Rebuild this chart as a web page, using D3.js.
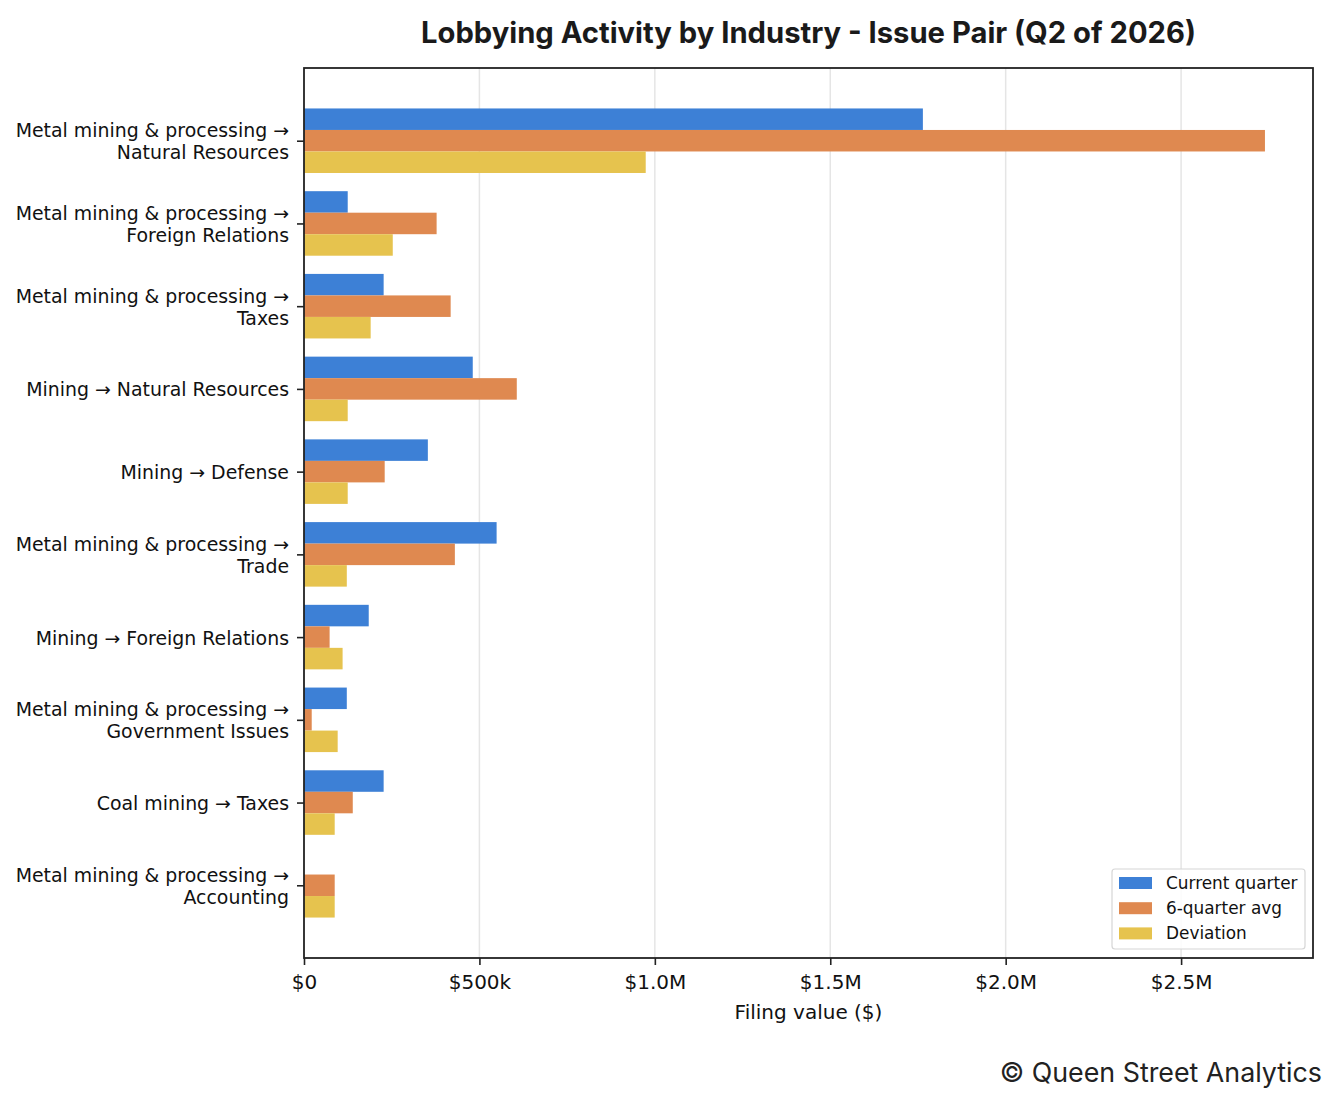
<!DOCTYPE html>
<html>
<head>
<meta charset="utf-8">
<script src="https://cdn.jsdelivr.net/npm/d3@7"></script>
<style>
  html, body { margin: 0; padding: 0; background: #fff; }
  svg { display: block; }
</style>
</head>
<body>
<div id="chart"></div>
<script>
const categories = [
  "Metal mining & processing →\nNatural Resources",
  "Metal mining & processing →\nForeign Relations",
  "Metal mining & processing →\nTaxes",
  "Mining → Natural Resources",
  "Mining → Defense",
  "Metal mining & processing →\nTrade",
  "Mining → Foreign Relations",
  "Metal mining & processing →\nGovernment Issues",
  "Coal mining → Taxes",
  "Metal mining & processing →\nAccounting"
];
const seriesNames = ["Current quarter", "6-quarter avg", "Deviation"];
const currentQuarter = [1764000, 124600, 227000, 481000, 353000, 549000, 184500, 122000, 227000, 0];
const sixQuarterAvg  = [2739000, 378000, 418000, 606500, 230000, 430000, 73000, 22000, 139000, 87500];
const deviation      = [974000, 253000, 190000, 124600, 124600, 122000, 110000, 96000, 87500, 87500];
const xTickValues = [0, 500000, 1000000, 1500000, 2000000, 2500000];
const xTickLabels = ["$0", "$500k", "$1.0M", "$1.5M", "$2.0M", "$2.5M"];
const colors = ["#3D80D6", "#DF8950", "#E6C34E"];

(function () {
const W = 1338, H = 1105;
const pL = 304, pR = 1313, pT = 68, pB = 958;
const seriesData = [currentQuarter, sixQuarterAvg, deviation];

const svg = d3.select("#chart").append("svg").attr("width", W).attr("height", H);

const maxVal = d3.max(seriesData.flat());
const x = d3.scaleLinear().domain([0, maxVal * 1.05]).range([pL, pR]);
const n = categories.length;
const barH = 0.26;
const yPad = 1.5 * barH + 0.05 * (n - 1 + 3 * barH);
const y = d3.scaleLinear().domain([-yPad, n - 1 + yPad]).range([pT, pB]);

// grid
svg.append("g").selectAll("line").data(xTickValues.slice(1)).join("line")
  .attr("x1", d => x(d)).attr("x2", d => x(d))
  .attr("y1", pT).attr("y2", pB)
  .attr("stroke", "#e5e5e5").attr("stroke-width", 1.5);

// bars
seriesData.forEach((vals, s) => {
  svg.append("g").selectAll("rect").data(vals).join("rect")
    .attr("x", x(0))
    .attr("y", (d, i) => y(i + (s - 1) * barH - barH / 2))
    .attr("width", d => x(d) - x(0))
    .attr("height", y(barH) - y(0))
    .attr("fill", colors[s]);
});

// x axis
const xAxis = d3.axisBottom(x).tickValues(xTickValues)
  .tickFormat((d, i) => xTickLabels[i]).tickSize(7).tickPadding(9.5);
const gx = svg.append("g").attr("transform", `translate(0,${pB})`).call(xAxis);
gx.select(".domain").remove();
gx.selectAll("line").attr("stroke", "#222").attr("stroke-width", 1.6);
gx.selectAll("text").attr("font-family", "DejaVu Sans").attr("font-size", 20).attr("fill", "#111");

// y axis
const yAxis = d3.axisLeft(y).tickValues(d3.range(n)).tickFormat("").tickSize(7);
const gy = svg.append("g").attr("transform", `translate(${pL},0)`).call(yAxis);
gy.select(".domain").remove();
gy.selectAll("line").attr("stroke", "#222").attr("stroke-width", 1.6);

const labels = svg.append("g").attr("font-family", "DejaVu Sans").attr("font-size", 18.9)
  .attr("fill", "#111").attr("text-anchor", "end");
categories.forEach((c, i) => {
  const lines = c.split("\n");
  const t = labels.append("text").attr("x", 289).attr("y", y(i));
  lines.forEach((ln, k) => {
    t.append("tspan").attr("x", 289)
      .attr("y", y(i) + 0.5 + (k - (lines.length - 1) / 2) * 22)
      .attr("dominant-baseline", "central")
      .text(ln);
  });
});

// frame
svg.append("rect").attr("x", pL).attr("y", pT)
  .attr("width", pR - pL).attr("height", pB - pT)
  .attr("fill", "none").attr("stroke", "#222").attr("stroke-width", 1.8);

// title
svg.append("text").attr("x", (pL + pR) / 2).attr("y", 43)
  .attr("text-anchor", "middle").attr("font-family", "Inter").attr("font-weight", 700)
  .attr("font-size", 29.2).attr("fill", "#1a1a1a")
  .text("Lobbying Activity by Industry - Issue Pair (Q2 of 2026)");

// x label
svg.append("text").attr("x", (pL + pR) / 2).attr("y", 1019)
  .attr("text-anchor", "middle").attr("font-family", "DejaVu Sans")
  .attr("font-size", 20).attr("fill", "#111").text("Filing value ($)");

// legend
const lg = svg.append("g");
lg.append("rect").attr("x", 1112).attr("y", 869).attr("width", 193).attr("height", 80)
  .attr("rx", 3).attr("fill", "#fff").attr("fill-opacity", 0.85)
  .attr("stroke", "#d6d6d6").attr("stroke-width", 1.2);
seriesNames.forEach((nm, s) => {
  const cy = 883 + s * 25.2;
  lg.append("rect").attr("x", 1119).attr("y", cy - 6).attr("width", 33).attr("height", 12)
    .attr("fill", colors[s]);
  lg.append("text").attr("x", 1166).attr("y", cy).attr("dominant-baseline", "central")
    .attr("font-family", "DejaVu Sans").attr("font-size", 16.9).attr("fill", "#111").text(nm);
});

// footer
svg.append("text").attr("x", 1322).attr("y", 1082).attr("text-anchor", "end")
  .attr("font-family", "Inter").attr("font-size", 26.8).attr("fill", "#222")
  .text("© Queen Street Analytics");
})();
</script>
</body>
</html>
